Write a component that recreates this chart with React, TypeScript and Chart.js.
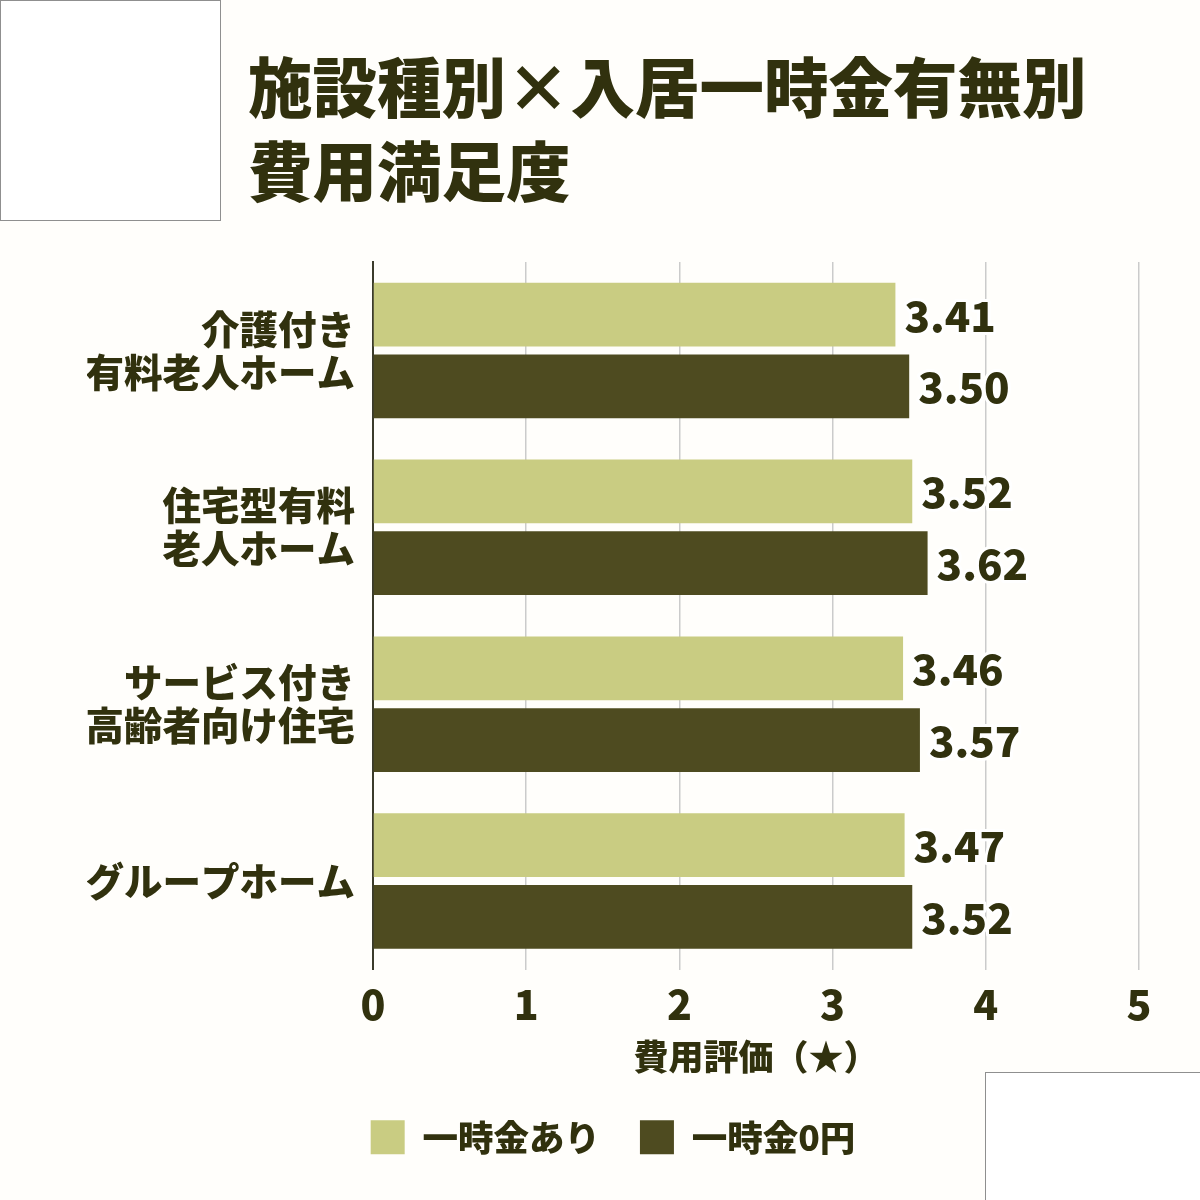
import { useEffect, useRef } from "react"
import { Chart, registerables } from "chart.js"

Chart.register(...registerables)

const categories = [
  ["介護付き", "有料老人ホーム"],
  ["住宅型有料", "老人ホーム"],
  ["サービス付き", "高齢者向け住宅"],
  ["グループホーム"],
]
const seriesNames = ["一時金あり", "一時金0円"]
const withFee = [3.41, 3.52, 3.46, 3.47]
const zeroFee = [3.5, 3.62, 3.57, 3.52]
const xMin = 0
const xMax = 5

const FONT = '"Noto Sans CJK JP", "Noto Sans", sans-serif'
const TEXT = "#31310e"
const LIGHT = "#c9cc82"
const DARK = "#4e4b20"
const BG = "#fffefb"

// value printed right of each bar, with a white halo
const valueLabels = {
  id: "valueLabels",
  afterDatasetsDraw(chart: Chart) {
    const { ctx } = chart
    ctx.save()
    ctx.font = `900 42px ${FONT}`
    ctx.textAlign = "left"
    ctx.textBaseline = "middle"
    ctx.lineJoin = "round"
    chart.data.datasets.forEach((ds, i) => {
      const meta = chart.getDatasetMeta(i)
      meta.data.forEach((bar: any, j) => {
        const text = (ds.data[j] as number).toFixed(2)
        const x = bar.x + 9
        const y = bar.y + 1
        ctx.strokeStyle = "#ffffff"
        ctx.lineWidth = 6
        ctx.strokeText(text, x, y)
        ctx.fillStyle = TEXT
        ctx.fillText(text, x, y)
      })
    })
    ctx.restore()
  },
}

function CostChart() {
  const chartRef = useRef<HTMLCanvasElement>(null)
  const chartInstance = useRef<Chart | null>(null)

  useEffect(() => {
    if (!chartRef.current) return
    if (chartInstance.current) chartInstance.current.destroy()
    const ctx = chartRef.current.getContext("2d")
    if (!ctx) return

    chartInstance.current = new Chart(ctx, {
      type: "bar",
      data: {
        labels: categories,
        datasets: [
          {
            label: seriesNames[0],
            data: withFee,
            backgroundColor: LIGHT,
            borderWidth: 0,
            categoryPercentage: 0.81,
            barPercentage: 0.89,
          },
          {
            label: seriesNames[1],
            data: zeroFee,
            backgroundColor: DARK,
            borderWidth: 0,
            categoryPercentage: 0.81,
            barPercentage: 0.89,
          },
        ],
      },
      options: {
        indexAxis: "y",
        responsive: false,
        animation: false,
        layout: { padding: { top: 22, right: 61, bottom: 35, left: 87 } },
        plugins: {
          tooltip: { enabled: false },
          legend: {
            position: "bottom",
            labels: {
              boxWidth: 34,
              boxHeight: 34,
              padding: 40,
              color: TEXT,
              font: { family: FONT, size: 35.5, weight: "900" },
            },
          },
        },
        scales: {
          x: {
            min: xMin,
            max: xMax,
            ticks: {
              stepSize: 1,
              color: TEXT,
              padding: 10,
              font: { family: FONT, size: 41, weight: "900" },
            },
            grid: { color: "#cbcbcb", lineWidth: 1.5, drawTicks: false },
            border: { display: false },
            title: {
              display: true,
              text: "費用評価（★）",
              color: TEXT,
              font: { family: FONT, size: 35, weight: "900" },
              padding: { top: 0, bottom: 2 },
            },
            afterFit: (s: any) => {
              s.height = 110
            },
          },
          y: {
            ticks: {
              color: TEXT,
              padding: 18,
              font: { family: FONT, size: 38.5, weight: "900", lineHeight: 1.12 },
            },
            grid: { display: false, drawTicks: false },
            border: { display: true, color: "#3b3b2b", width: 2 },
            afterFit: (s: any) => {
              s.width = 373 - 87
              s.paddingTop = 0
              s.paddingBottom = 0
            },
          },
        },
      },
      plugins: [valueLabels],
    })

    return () => {
      if (chartInstance.current) {
        chartInstance.current.destroy()
        chartInstance.current = null
      }
    }
  }, [])

  return (
    <canvas
      ref={chartRef}
      width={1200}
      height={960}
      style={{ position: "absolute", left: 0, top: 240, width: 1200, height: 960 }}
    />
  )
}

export default function App() {
  const box = {
    position: "absolute" as const,
    background: "#ffffff",
    border: "1.5px solid #8f8f8f",
    boxSizing: "border-box" as const,
  }
  return (
    <div
      style={{
        position: "absolute",
        left: 0,
        top: 0,
        width: 1200,
        height: 1200,
        overflow: "hidden",
        background: BG,
        fontFamily: FONT,
      }}
    >
      <div style={{ ...box, left: 0, top: 0, width: 221, height: 221 }} />
      <div style={{ ...box, left: 985, top: 1072, width: 230, height: 140 }} />
      <div
        style={{
          position: "absolute",
          left: 248,
          top: 42,
          fontSize: 64.5,
          lineHeight: "84px",
          fontWeight: 900,
          color: TEXT,
          whiteSpace: "nowrap",
        }}
      >
        施設種別×入居一時金有無別
        <br />
        費用満足度
      </div>
      <CostChart />
    </div>
  )
}
